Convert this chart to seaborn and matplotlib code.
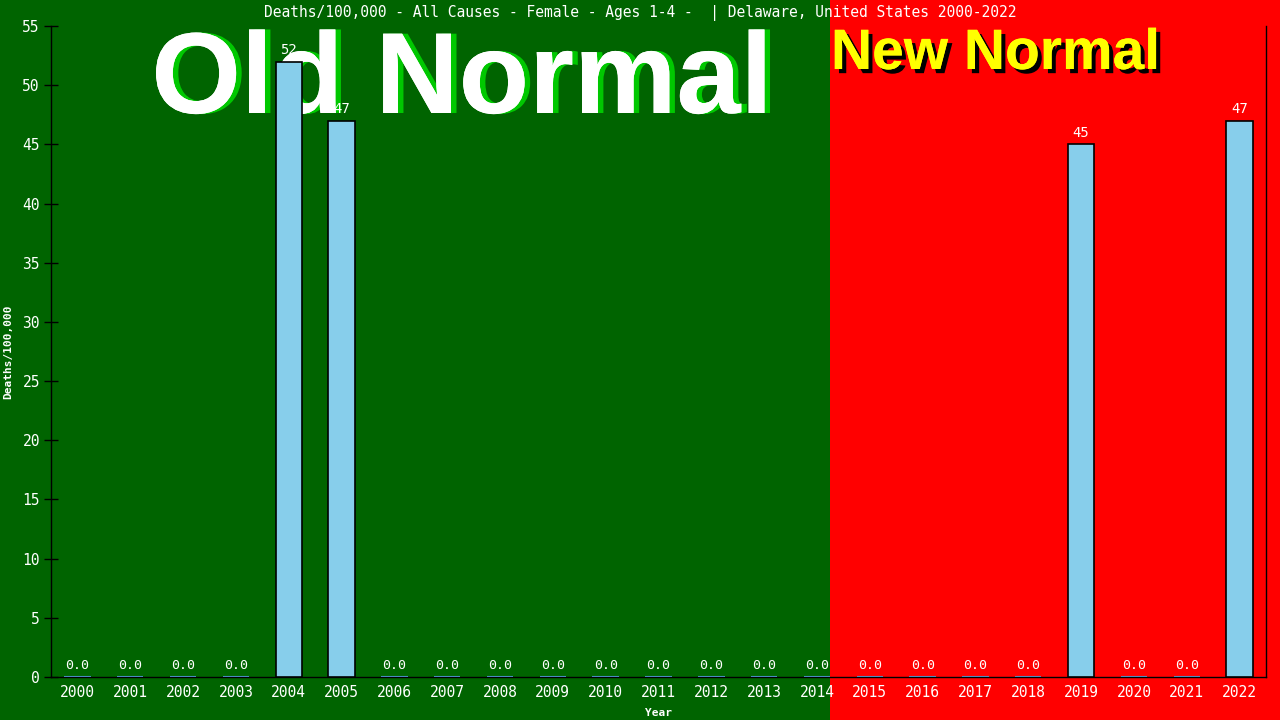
import matplotlib
matplotlib.use("Agg")
import matplotlib.pyplot as plt
import matplotlib.patheffects as pe
import seaborn as sns
import pandas as pd
from matplotlib.patches import Rectangle

years = [str(y) for y in range(2000, 2023)]
values = [0, 0, 0, 0, 52, 47, 0, 0, 0, 0, 0, 0, 0, 0, 0, 0, 0, 0, 0, 45, 0, 0, 47]
title = "Deaths/100,000 - All Causes - Female - Ages 1-4 -  | Delaware, United States 2000-2022"
y_ticks = list(range(0, 56, 5))

df = pd.DataFrame({"Year": years, "Deaths": values})

sns.set_theme(style="ticks")
mono = "DejaVu Sans Mono"
plt.rcParams["font.family"] = ["DejaVu Sans Mono"]

fig = plt.figure(figsize=(12.8, 7.2), dpi=100)
fig.patch.set_facecolor("#006400")
split = 830 / 1280
fig.patches.append(Rectangle((split, 0), 1 - split, 1, transform=fig.transFigure,
                             facecolor="#FF0000", edgecolor="none", zorder=-10))

ax = fig.add_axes([51 / 1280, 43 / 720, (1266 - 51) / 1280, (677 - 26) / 720])
ax.patch.set_alpha(0)

sns.barplot(data=df, x="Year", y="Deaths", color="#87CEEB", width=0.5,
            edgecolor="black", linewidth=1.2, saturation=1, ax=ax, zorder=3)

for p, v in zip(ax.patches, values):
    if v == 0:
        p.set_edgecolor("#4A8BC0")
        p.set_linewidth(1.5)

for p, v in zip(ax.patches, values):
    lbl = "0.0" if v == 0 else f"{v:d}"
    ax.text(p.get_x() + p.get_width() / 2, v + 0.4, lbl, ha="center", va="bottom",
            color="white", fontsize=10 if v else 9.5, family=mono, zorder=4)

ax.set_xlim(-0.5, len(years) - 0.5)
ax.set_ylim(0, 55)
ax.set_yticks(y_ticks)
ax.tick_params(axis="y", direction="inout", length=10, width=1, colors="black",
               labelcolor="white", labelsize=10.5, pad=3)
ax.tick_params(axis="x", length=0, labelcolor="white", labelsize=10.5, pad=6)
for lab in ax.get_xticklabels() + ax.get_yticklabels():
    lab.set_family(mono)

for s in ["left", "bottom", "right"]:
    ax.spines[s].set_color("black")
    ax.spines[s].set_linewidth(1)
ax.spines["top"].set_visible(False)

ax.set_xlabel("Year", color="white", fontsize=8, fontweight="bold", family=mono, labelpad=6)
ax.set_ylabel("Deaths/100,000", color="white", fontsize=8, fontweight="bold", family=mono, labelpad=8)
ax.yaxis.set_label_coords(-0.031, 0.5)
ax.xaxis.set_label_coords(0.5, -0.047)

fig.text(0.5, 1 - 13 / 720, title, ha="center", va="center", color="white",
         fontsize=10.5, family=mono)

ax.text(462 / 1280, 1 - 113 / 720, "Old Normal", ha="center", va="baseline", color="white",
        fontsize=83, fontweight="bold", family="Liberation Sans", zorder=1,
        transform=fig.transFigure,
        path_effects=[pe.withSimplePatchShadow(offset=(4, 0), shadow_rgbFace="#00C800", alpha=1),
                      pe.Normal()])
ax.text(831 / 1280, 1 - 69 / 720, "New Normal", ha="left", va="baseline", color="#FFFF00",
        fontsize=41, fontweight="bold", family="Liberation Sans", zorder=1,
        transform=fig.transFigure,
        path_effects=[pe.withSimplePatchShadow(offset=(3, -3), shadow_rgbFace="black", alpha=1),
                      pe.Normal()])

fig.savefig("out.png", dpi=100, facecolor=fig.get_facecolor())
